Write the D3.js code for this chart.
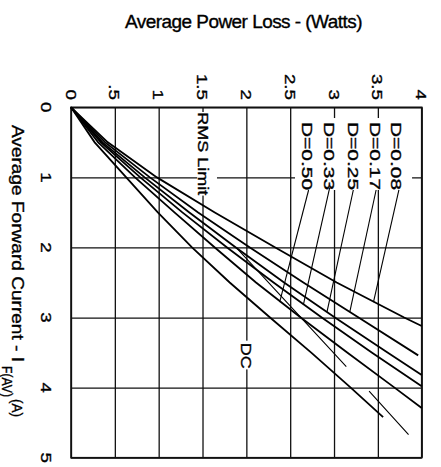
<!DOCTYPE html>
<html>
<head>
<meta charset="utf-8">
<script src="https://cdn.jsdelivr.net/npm/d3@7"></script>
<style>
    html, body { margin: 0; padding: 0; background: #fff; }
    svg { display: block; font-family: "Liberation Sans", Arial, sans-serif; }
    svg text { fill: #000; stroke: #000; stroke-width: 0.35px; }
</style>
</head>
<body>
<svg id="chart" width="441" height="467"></svg>
<script>
// values: [average forward current (A), average power loss (W)]
var powerTicks = [0, 0.5, 1, 1.5, 2, 2.5, 3, 3.5, 4];
var powerTickLabels = ['0', '.5', '1', '1.5', '2', '2.5', '3', '3.5', '4'];
var currentTicks = [0, 1, 2, 3, 4, 5];
var currentTickLabels = ['0', '1', '2', '3', '4', '5'];

var lossD008 = [[0, 0], [0.5, 0.42], [1, 0.98], [1.5, 1.64], [2, 2.33], [2.5, 3.03], [3, 3.80], [3.12, 4.0]];
var lossD017 = [[0, 0], [0.5, 0.39], [1, 0.90], [1.5, 1.45], [2, 2.04], [2.5, 2.65], [3, 3.28], [3.54, 3.96]];
var lossD025 = [[0, 0], [0.5, 0.36], [1, 0.84], [1.5, 1.35], [2, 1.88], [2.5, 2.43], [3, 3.01], [3.5, 3.61], [3.82, 4.0]];
var lossD033 = [[0, 0], [0.5, 0.34], [1, 0.79], [1.5, 1.27], [2, 1.78], [2.5, 2.31], [3, 2.86], [3.5, 3.43], [3.98, 4.0]];
var lossD050 = [[0, 0], [0.5, 0.31], [1, 0.73], [1.5, 1.18], [2, 1.64], [2.5, 2.11], [3, 2.62], [3.5, 3.15], [4, 3.69], [4.29, 4.0]];
var lossDC = [[0, 0], [0.5, 0.27], [1, 0.63], [1.5, 0.99], [2, 1.38], [2.5, 1.81], [3, 2.27], [3.5, 2.74], [4, 3.19], [4.42, 3.56]];
var rmsLimit = [[2.01, 1.89], [3.70, 3.14], null, [4.05, 3.40], [4.67, 3.85]];

var dutyLabels = ['D=0.08', 'D=0.17', 'D=0.25', 'D=0.33', 'D=0.50'];
// label column (power), leader start [current, power], leader end [current, power]
var dutyLabelPower = [3.715, 3.47, 3.22, 2.95, 2.70];
var dutyLeaderStart = [[1.18, 3.74], [1.18, 3.48], [1.18, 3.22], [1.15, 2.95], [1.18, 2.71]];
var dutyLeaderEnd = [[2.78, 3.45], [2.92, 3.18], [2.92, 2.92], [2.82, 2.65], [2.78, 2.38]];

var svg = d3.select('#chart');
var margin = {top: 107.3, left: 71, right: 19.3, bottom: 9.3};
var w = 441 - margin.left - margin.right,
    h = 467 - margin.top - margin.bottom;

var x = d3.scaleLinear().domain([0, 4]).range([margin.left, margin.left + w]);   // power
var y = d3.scaleLinear().domain([0, 5]).range([margin.top, margin.top + h]);     // current

var rotStretch = 1.25;

// gridlines
svg.append('g')
    .attr('transform', 'translate(0,' + margin.top + ')')
    .call(d3.axisTop(x).tickValues(powerTicks).tickSize(-h).tickSizeOuter(0).tickFormat(''))
    .call(function(g) {
        g.select('.domain').remove();
        g.selectAll('line').attr('stroke', '#111').attr('stroke-width', 1.3);
    });

svg.append('g')
    .attr('transform', 'translate(' + margin.left + ',0)')
    .call(d3.axisLeft(y).tickValues(currentTicks).tickSize(-w).tickSizeOuter(0).tickFormat(''))
    .call(function(g) {
        g.select('.domain').remove();
        g.selectAll('line').attr('stroke', '#111').attr('stroke-width', 1.3);
    });

svg.append('rect')
    .attr('x', x(0)).attr('y', y(0))
    .attr('width', w).attr('height', h)
    .attr('fill', 'none')
    .attr('stroke', '#111')
    .attr('stroke-width', 1.6);

// white knock-outs behind in-plot labels
var knockouts = [
    {p0: 2.555, p1: 3.89, i0: 0.153, i1: 1.18},
    {p0: 1.44, p1: 1.665, i0: 0.067, i1: 1.26},
    {p0: 1.94, p1: 2.08, i0: 3.33, i1: 3.74}
];
svg.selectAll('rect.knock')
    .data(knockouts)
    .enter()
    .append('rect')
    .attr('class', 'knock')
    .attr('x', function(d) { return x(d.p0); })
    .attr('y', function(d) { return y(d.i0); })
    .attr('width', function(d) { return x(d.p1) - x(d.p0); })
    .attr('height', function(d) { return y(d.i1) - y(d.i0); })
    .attr('fill', '#fff');

function rotText(px, py, str, size, anchor, len) {
    var t = svg.append('text')
        .attr('transform', 'translate(' + px + ',' + py + ') rotate(90) scale(' + rotStretch + ',1)')
        .attr('dy', '0.36em')
        .attr('text-anchor', anchor)
        .style('font-size', size + 'px')
        .text(str);
    if (len) {
        t.attr('textLength', len / rotStretch).attr('lengthAdjust', 'spacingAndGlyphs');
    }
    return t;
}

// tick labels
powerTicks.forEach(function(v, k) {
    rotText(x(v), 100, powerTickLabels[k], 15, 'end');
});
currentTicks.forEach(function(v, k) {
    rotText(46, y(v), currentTickLabels[k], 15, 'middle');
});

// titles
svg.append('text')
    .attr('x', 243.5).attr('y', 28)
    .attr('text-anchor', 'middle')
    .attr('textLength', 237)
    .attr('lengthAdjust', 'spacingAndGlyphs')
    .style('font-size', '18px')
    .style('letter-spacing', '-0.5px')
    .text('Average Power Loss - (Watts)');

svg.append('text')
    .attr('transform', 'translate(12,125) rotate(90)')
    .attr('textLength', 237)
    .attr('lengthAdjust', 'spacingAndGlyphs')
    .style('font-size', '17px')
    .text('Average Forward Current - I');
svg.append('text')
    .attr('transform', 'translate(2,366) rotate(90)')
    .attr('textLength', 31)
    .attr('lengthAdjust', 'spacingAndGlyphs')
    .style('font-size', '14px')
    .text('F(AV)');
svg.append('text')
    .attr('transform', 'translate(12,399) rotate(90)')
    .attr('textLength', 18)
    .attr('lengthAdjust', 'spacingAndGlyphs')
    .style('font-size', '15px')
    .text('(A)');

// curves
var line = d3.line()
    .defined(function(d) { return d; })
    .x(function(d) { return x(d[1]); })
    .y(function(d) { return y(d[0]); });

var curves = [lossD008, lossD017, lossD025, lossD033, lossD050, lossDC];
svg.selectAll('path.curve')
    .data(curves)
    .enter()
    .append('path')
    .attr('class', 'curve')
    .attr('d', line)
    .attr('fill', 'none')
    .attr('stroke', '#000')
    .attr('stroke-width', 1.8);

svg.append('path')
    .datum(rmsLimit)
    .attr('d', line)
    .attr('fill', 'none')
    .attr('stroke', '#000')
    .attr('stroke-width', 1.1);

// duty cycle labels and leaders
dutyLabels.forEach(function(lbl, k) {
    rotText(x(dutyLabelPower[k]), y(0.21), lbl, 15, 'start', 68);
    svg.append('line')
        .attr('x1', x(dutyLeaderStart[k][1])).attr('y1', y(dutyLeaderStart[k][0]))
        .attr('x2', x(dutyLeaderEnd[k][1])).attr('y2', y(dutyLeaderEnd[k][0]))
        .attr('stroke', '#000')
        .attr('stroke-width', 1.1);
});

rotText(x(1.5) + 0.5, y(0.07), 'RMS Limit', 15, 'start', 83);
rotText(x(2.0), y(3.36), 'DC', 15, 'start', 26);
</script>
</body>
</html>
